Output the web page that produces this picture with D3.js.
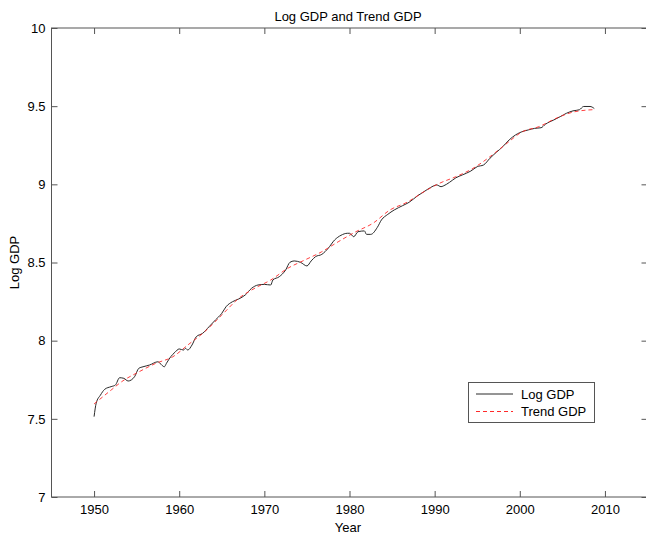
<!DOCTYPE html>
<html>
<head>
<meta charset="utf-8">
<script src="https://cdn.jsdelivr.net/npm/d3@7"></script>
<style>
  html, body { margin: 0; padding: 0; background: #fff; }
  svg { display: block; font-family: "Liberation Sans", Arial, Helvetica, sans-serif; }
</style>
</head>
<body>
<svg id="chart" width="646" height="535"></svg>
<script>
// Log of real GDP, observed (year, value)
const gdpYears = [
  1950.0, 1950.25, 1950.75, 1951.25, 1952.0, 1952.5, 1953.0, 1953.5, 1954.0, 1954.75,
  1955.25, 1955.75, 1956.5, 1957.5, 1957.75, 1958.25, 1958.5, 1959.0, 1959.5, 1960.0,
  1960.5, 1960.75, 1961.0, 1961.5, 1962.0, 1962.75, 1963.5, 1964.25, 1965.0, 1965.5,
  1966.25, 1967.0, 1967.75, 1968.5, 1969.25, 1970.0, 1970.75, 1971.0, 1971.75, 1972.5,
  1973.0, 1973.5, 1974.25, 1975.0, 1975.5, 1976.0, 1976.75, 1977.5, 1978.25, 1979.0,
  1979.75, 1980.0, 1980.5, 1981.0, 1981.75, 1982.0, 1982.5, 1983.25, 1983.75, 1984.5,
  1985.25, 1986.25, 1987.0, 1988.0, 1988.75, 1989.5, 1990.25, 1990.75, 1991.0, 1991.75,
  1992.5, 1993.25, 1994.25, 1995.0, 1995.75, 1996.5, 1997.25, 1998.0, 1998.75, 1999.5,
  2000.5, 2001.0, 2001.75, 2002.5, 2003.0, 2004.0, 2004.75, 2005.5, 2006.25, 2007.0,
  2007.5, 2008.25, 2008.75
];
const gdpValues = [
  7.514, 7.600, 7.652, 7.689, 7.706, 7.716, 7.763, 7.759, 7.742, 7.769,
  7.823, 7.833, 7.844, 7.865, 7.855, 7.833, 7.855, 7.897, 7.926, 7.947,
  7.940, 7.951, 7.940, 7.972, 8.025, 8.047, 8.089, 8.132, 8.175, 8.217,
  8.249, 8.267, 8.292, 8.335, 8.356, 8.360, 8.356, 8.388, 8.409, 8.452,
  8.501, 8.510, 8.501, 8.478, 8.510, 8.537, 8.552, 8.591, 8.644, 8.674,
  8.687, 8.687, 8.665, 8.697, 8.702, 8.680, 8.680, 8.723, 8.772, 8.808,
  8.836, 8.864, 8.885, 8.927, 8.953, 8.979, 8.996, 8.985, 8.989, 9.013,
  9.042, 9.060, 9.085, 9.113, 9.124, 9.167, 9.205, 9.241, 9.284, 9.316,
  9.341, 9.348, 9.358, 9.362, 9.384, 9.412, 9.433, 9.455, 9.470, 9.477,
  9.498, 9.498, 9.485
];

// Trend component (year, value)
const trendYears = [
  1950.0, 1952.0, 1953.25, 1955.25, 1957.25, 1959.25, 1961.0, 1963.0, 1965.0, 1967.0,
  1969.0, 1970.75, 1972.75, 1974.75, 1976.75, 1978.75, 1980.75, 1982.75, 1984.75, 1986.75,
  1988.75, 1990.5, 1992.5, 1994.5, 1996.5, 1998.5, 2000.25, 2002.25, 2004.25, 2006.25,
  2008.75
];
const trendValues = [
  7.595, 7.684, 7.738, 7.800, 7.855, 7.897, 7.972, 8.058, 8.164, 8.271,
  8.339, 8.388, 8.463, 8.516, 8.569, 8.635, 8.697, 8.751, 8.836, 8.885,
  8.953, 9.005, 9.049, 9.102, 9.177, 9.263, 9.335, 9.369, 9.422, 9.462,
  9.478
];

const xTicks = [1950, 1960, 1970, 1980, 1990, 2000, 2010];
const yTicks = [7, 7.5, 8, 8.5, 9, 9.5, 10];
const seriesNames = ["Log GDP", "Trend GDP"];

const svg = d3.select("#chart");
const plotLeft = 51.5, plotRight = 647.5, plotTop = 28, plotBottom = 497;

const x = d3.scaleLinear().domain([1945, 2015]).range([plotLeft, plotRight]);
const y = d3.scaleLinear().domain([7, 10]).range([plotBottom, plotTop]);

const axisColor = "#555";
const lineColor = "#2a2a2a";
const trendColor = "#ff2a2a";
const fs = 13;

// frame with inward ticks on all four sides
const styleAxis = g => {
  g.select(".domain").remove();
  g.selectAll(".tick line").attr("stroke", axisColor);
  g.selectAll(".tick text").attr("fill", "#000").attr("font-size", fs);
};

svg.append("g").attr("transform", `translate(0,${plotBottom})`)
  .call(d3.axisBottom(x).tickValues(xTicks).tickFormat(d3.format("d")).tickSizeInner(-6).tickPadding(8))
  .call(styleAxis);
svg.append("g").attr("transform", `translate(0,${plotTop})`)
  .call(d3.axisTop(x).tickValues(xTicks).tickSizeInner(-6).tickFormat(""))
  .call(styleAxis);
svg.append("g").attr("transform", `translate(${plotLeft},0)`)
  .call(d3.axisLeft(y).tickValues(yTicks).tickFormat(d3.format("~g")).tickSizeInner(-6).tickPadding(6))
  .call(styleAxis);
svg.append("g").attr("transform", `translate(${plotRight},0)`)
  .call(d3.axisRight(y).tickValues(yTicks).tickSizeInner(-6).tickFormat(""))
  .call(styleAxis);

svg.append("rect")
  .attr("x", plotLeft).attr("y", plotTop)
  .attr("width", plotRight - plotLeft).attr("height", plotBottom - plotTop)
  .attr("fill", "none").attr("stroke", axisColor).attr("stroke-width", 1);

// series
const gdpPts = gdpYears.map((t, i) => [t, gdpValues[i]]);
const trendPts = trendYears.map((t, i) => [t, trendValues[i]]);

svg.append("path")
  .datum(gdpPts)
  .attr("fill", "none").attr("stroke", lineColor).attr("stroke-width", 1)
  .attr("d", d3.line().x(d => x(d[0])).y(d => y(d[1])).curve(d3.curveMonotoneX));

svg.append("path")
  .datum(trendPts)
  .attr("fill", "none").attr("stroke", trendColor).attr("stroke-width", 0.9)
  .attr("stroke-dasharray", "4,3")
  .attr("d", d3.line().x(d => x(d[0])).y(d => y(d[1])).curve(d3.curveMonotoneX));

// titles
svg.append("text").attr("x", 348).attr("y", 21).attr("text-anchor", "middle")
  .attr("font-size", fs).text("Log GDP and Trend GDP");
svg.append("text").attr("x", 348).attr("y", 532).attr("text-anchor", "middle")
  .attr("font-size", fs).text("Year");
svg.append("text").attr("transform", `translate(19,262.5) rotate(-90)`)
  .attr("text-anchor", "middle").attr("font-size", fs).text("Log GDP");

// legend
const lg = svg.append("g");
lg.append("rect").attr("x", 468.5).attr("y", 382.5).attr("width", 126).attr("height", 40)
  .attr("fill", "#fff").attr("stroke", axisColor);
const legendStyles = [
  { stroke: lineColor, dash: null },
  { stroke: trendColor, dash: "4,3" }
];
seriesNames.forEach((name, i) => {
  const yy = 394 + i * 17.5;
  lg.append("line").attr("x1", 476).attr("x2", 513).attr("y1", yy).attr("y2", yy)
    .attr("stroke", legendStyles[i].stroke).attr("stroke-width", 1)
    .attr("stroke-dasharray", legendStyles[i].dash);
  lg.append("text").attr("x", 521).attr("y", yy).attr("dy", "0.35em")
    .attr("font-size", fs).text(name);
});
</script>
</body>
</html>
